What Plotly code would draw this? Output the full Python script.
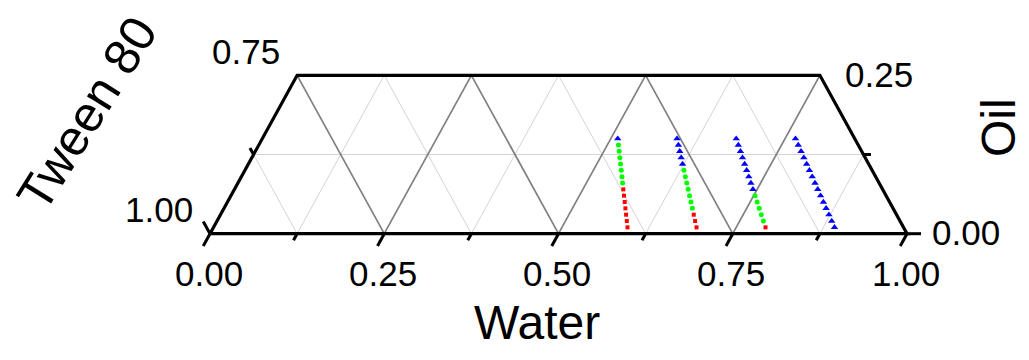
import plotly.graph_objects as go
import math

# ---------------- data (ternary fractions: water, oil; tween = 1 - water - oil) -------------
# red squares
red_water = [0.594, 0.588, 0.582, 0.576, 0.570, 0.564, 0.558,
             0.693, 0.686, 0.679,
             0.792]
red_oil = [0.01, 0.02, 0.03, 0.04, 0.05, 0.06, 0.07,
           0.01, 0.02, 0.03,
           0.01]
# green circles
green_water = [0.552, 0.546, 0.540, 0.534, 0.528, 0.522, 0.516,
               0.672, 0.665, 0.658, 0.651, 0.644, 0.637, 0.630,
               0.784, 0.776, 0.768, 0.760, 0.752]
green_oil = [0.08, 0.09, 0.10, 0.11, 0.12, 0.13, 0.14,
             0.04, 0.05, 0.06, 0.07, 0.08, 0.09, 0.10,
             0.02, 0.03, 0.04, 0.05, 0.06]
# blue triangles
blue_water = [0.510,
              0.623, 0.616, 0.609, 0.602, 0.595,
              0.744, 0.736, 0.728, 0.720, 0.712, 0.704, 0.696, 0.688, 0.680,
              0.891, 0.882, 0.873, 0.864, 0.855, 0.846, 0.837, 0.828, 0.819,
              0.810, 0.801, 0.792, 0.783, 0.774, 0.765]
blue_oil = [0.15,
            0.11, 0.12, 0.13, 0.14, 0.15,
            0.07, 0.08, 0.09, 0.10, 0.11, 0.12, 0.13, 0.14, 0.15,
            0.01, 0.02, 0.03, 0.04, 0.05, 0.06, 0.07, 0.08, 0.09,
            0.10, 0.11, 0.12, 0.13, 0.14, 0.15]

# axis ticks
water_ticks = [0.0, 0.125, 0.25, 0.375, 0.5, 0.625, 0.75, 0.875, 1.0]
water_labels = ["0.00", "", "0.25", "", "0.50", "", "0.75", "", "1.00"]
tween_ticks = [1.0, 0.875]
tween_labels = ["1.00", ""]
tween_top_label = "0.75"
oil_ticks = [0.0, 0.125]
oil_labels = ["0.00", ""]
oil_top_label = "0.25"
OIL_MAX = 0.25
grid_steps = [0.125, 0.25, 0.375, 0.5, 0.625, 0.75, 0.875]

FONT = "Arial, 'Liberation Sans', sans-serif"

# ---------------- geometry -------------
W, H = 1029, 360
X0PX, Y0PX = 210.0, 233.7   # pixel of water=0,oil=0 corner
PX, PY = 697.0, 633.6        # pixels per unit


def proj(water, oil):
    return water + oil / 2.0, oil


def projl(ws, os_):
    xs, ys = [], []
    for w, o in zip(ws, os_):
        x, y = proj(w, o)
        xs.append(x)
        ys.append(y)
    return xs, ys


xrange_ = [-X0PX / PX, (W - X0PX) / PX]
yrange_ = [-(H - Y0PX) / PY, Y0PX / PY]

fig = go.Figure()


def add_lines(segs, color, width):
    xs, ys = [], []
    for (w1, o1), (w2, o2) in segs:
        a = proj(w1, o1)
        b = proj(w2, o2)
        xs += [a[0], b[0], None]
        ys += [a[1], b[1], None]
    fig.add_trace(go.Scatter(x=xs, y=ys, mode="lines", hoverinfo="skip",
                             line=dict(color=color, width=width), showlegend=False))


light, dark = [], []
for g in grid_steps:
    major = abs(g / 0.25 - round(g / 0.25)) < 1e-9
    tgt = dark if major else light
    # constant water
    tgt.append(((g, 0.0), (g, min(OIL_MAX, 1 - g))))
    # constant tween
    top_o = min(OIL_MAX, 1 - g)
    tgt.append(((1 - g, 0.0), (1 - g - top_o, top_o)))
    # constant oil
    if g < OIL_MAX:
        tgt.append(((0.0, g), (1 - g, g)))
add_lines(light, "#d4d4d4", 1)
add_lines(dark, "#808080", 1.7)

# frame
fx, fy = projl([0, 1, 1 - OIL_MAX, 0, 0], [0, 0, OIL_MAX, OIL_MAX, 0])
fig.add_trace(go.Scatter(x=fx, y=fy, mode="lines", hoverinfo="skip",
                         line=dict(color="black", width=3.2), showlegend=False))

# ticks
MAJ, MIN = 14.0, 7.5
tx, ty = [], []


def tick(w, o, dw, do, length):
    # direction in ternary (dwater, doil); convert length in pixels
    x0, y0 = proj(w, o)
    dx, dy = dw + do / 2.0, do
    n = math.hypot(dx * PX, dy * PY)
    s = length / n
    tx.extend([x0, x0 + dx * s, None])
    ty.extend([y0, y0 + dy * s, None])


for w, lab in zip(water_ticks, water_labels):
    tick(w, 0.0, 0.0, -1.0, MAJ if lab else MIN)
for t, lab in zip(tween_ticks, tween_labels):
    tick(0.0, 1 - t, -1.0, 1.0, MAJ if lab else MIN)
for o, lab in zip(oil_ticks, oil_labels):
    tick(1 - o, o, 1.0, 0.0, MAJ if lab else MIN)
fig.add_trace(go.Scatter(x=tx, y=ty, mode="lines", hoverinfo="skip",
                         line=dict(color="black", width=3), showlegend=False))

# data
for ws, os_, col, sym, sz in [(red_water, red_oil, "#ff0000", "square", 4),
                              (green_water, green_oil, "#00ff00", "circle", 5),
                              (blue_water, blue_oil, "#0000ff", "triangle-up", 6.5)]:
    xs, ys = projl(ws, os_)
    fig.add_trace(go.Scatter(x=xs, y=ys, mode="markers", showlegend=False,
                             marker=dict(color=col, symbol=sym, size=sz, line=dict(width=0))))

# labels
TF = dict(family=FONT, size=35, color="black")
ann = []
for w, lab in zip(water_ticks, water_labels):
    if lab:
        x, y = proj(w, 0)
        ann.append(dict(x=x, y=y, text=lab, xshift=-1.5, yshift=-40, font=TF))
for t, lab in list(zip(tween_ticks, tween_labels)) + [(1 - OIL_MAX, tween_top_label)]:
    if lab:
        x, y = proj(0, 1 - t)
        ann.append(dict(x=x, y=y, text=lab, xshift=-51, yshift=24, font=TF))
for o, lab in list(zip(oil_ticks, oil_labels)) + [(OIL_MAX, oil_top_label)]:
    if lab:
        x, y = proj(1 - o, o)
        ann.append(dict(x=x, y=y, text=lab, xshift=59, yshift=1, font=TF))

TT = dict(family=FONT, size=48, color="black")
TT2 = dict(family=FONT, size=50, color="black")
ann.append(dict(x=(537 - X0PX) / PX, y=(Y0PX - 322) / PY, text="Water", font=TT))
ann.append(dict(x=(87 - X0PX) / PX, y=(Y0PX - 114) / PY, text="Tween 80", font=TT2, textangle=-58))
ann.append(dict(x=(998 - X0PX) / PX, y=(Y0PX - 128) / PY, text="Oil",
                font=dict(family=FONT, size=48, color="black"), textangle=-90))
for a in ann:
    a.update(xref="x", yref="y", showarrow=False, xanchor="center", yanchor="middle")

fig.update_layout(
    width=W, height=H, autosize=False,
    margin=dict(l=0, r=0, t=0, b=0),
    paper_bgcolor="white", plot_bgcolor="white",
    xaxis=dict(range=xrange_, visible=False, fixedrange=True),
    yaxis=dict(range=yrange_, visible=False, fixedrange=True),
    annotations=ann, showlegend=False,
)
fig.write_html("out.html")
